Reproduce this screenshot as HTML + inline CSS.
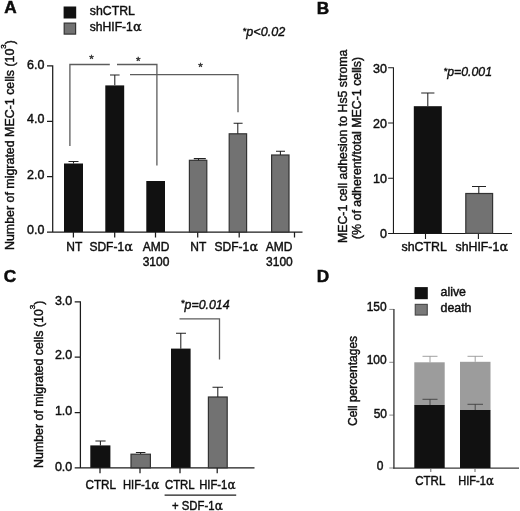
<!DOCTYPE html>
<html>
<head>
<meta charset="utf-8">
<title>Figure</title>
<style>
html,body{margin:0;padding:0;background:#fff;}
body{width:520px;height:511px;overflow:hidden;}
svg{display:block;font-family:"Liberation Sans",sans-serif;filter:blur(0.25px);}
.t{font-size:12px;fill:#0e0e0e;stroke:#0e0e0e;stroke-width:0.42;}
.tk{font-size:12.5px;fill:#0e0e0e;stroke:#0e0e0e;stroke-width:0.42;}
.b{font-size:17.2px;font-weight:bold;fill:#0c0c0c;stroke:#0c0c0c;stroke-width:0.5;}
.i{font-size:12px;font-style:italic;fill:#0e0e0e;stroke:#0e0e0e;stroke-width:0.38;}
.al{font-family:"DejaVu Math TeX Gyre","Liberation Serif",serif;font-size:12.5px;}
.ax{stroke:#1c1c1c;stroke-width:1.25;fill:none;}
.br{stroke:#5c5c5c;stroke-width:1.3;fill:none;}
.eb{stroke:#222;stroke-width:1.05;fill:none;}
.k{fill:#111;}
.g{fill:#727272;stroke:#333;stroke-width:1.2;}
</style>
</head>
<body>
<svg width="520" height="511" viewBox="0 0 520 511">
<rect width="520" height="511" fill="#fff"/>

<!-- ================= Panel A ================= -->
<g id="pA">
<text class="b" x="4.2" y="13.3">A</text>
<rect class="k" x="63.6" y="6.5" width="12.6" height="12"/>
<rect class="g" x="64.2" y="23.1" width="11.4" height="11"/>
<text class="t" style="font-size:12.3px" x="89.8" y="15">shCTRL</text>
<text class="t" style="font-size:12.1px" x="89.8" y="31.4">shHIF-1<tspan class="al">α</tspan></text>
<text class="i" style="font-size:12.6px" x="242.6" y="36"><tspan style="font-size:9.5px" dy="-2.5">*</tspan><tspan dy="2.5">p&lt;0.02</tspan></text>

<!-- y label -->
<text class="t" style="font-size:12.41px" transform="translate(14.1,250) rotate(-90)">Number of migrated MEC-1 cells (10<tspan style="font-size:8px" dy="-8.4">3</tspan><tspan dy="8.4">)</tspan></text>

<!-- axes -->
<path class="ax" d="M52.7,65.2V232M47,232H302.5M47,65.9H52.7M47,121.3H52.7M47,176.6H52.7"/>
<path class="ax" d="M73.4,232v5.4M114.7,232v5.4M155.5,232v5.4M197.7,232v5.4M239.2,232v5.4M294.5,232v5.4"/>
<text class="tk" x="44.5" y="68.6" text-anchor="end">6.0</text>
<text class="tk" x="44.5" y="122.6" text-anchor="end">4.0</text>
<text class="tk" x="44.5" y="178.6" text-anchor="end">2.0</text>
<text class="tk" x="44.5" y="233.8" text-anchor="end">0.0</text>

<!-- bars -->
<rect class="k" x="64" y="163.5" width="19" height="68.5"/>
<rect class="k" x="105.3" y="85.4" width="18.9" height="146.6"/>
<rect class="k" x="146.3" y="181" width="18.7" height="51.0"/>
<rect class="g" x="189.4" y="160.3" width="17.4" height="71.7"/>
<rect class="g" x="229.2" y="133.8" width="17.4" height="98.2"/>
<rect class="g" x="271.6" y="155" width="17.4" height="77.0"/>
<!-- error bars -->
<path class="eb" d="M73.5,163.5V161.5M68.5,161.5h10"/>
<path class="eb" d="M114.8,85.3V75M110,75h9.6"/>
<path class="eb" d="M198.5,160.3V158.6M193.8,158.6h12"/>
<path class="eb" d="M237.8,133.8V123.3M233.6,123.3h9"/>
<path class="eb" d="M280.4,155V151.3M276,151.3h9"/>

<!-- brackets -->
<path class="br" d="M69.9,146V64.5H109.8M117,64.5H156.9V165.5"/>
<path class="br" d="M130,74.6H238V112.2"/>
<text class="t" x="91.6" y="63.3" text-anchor="middle" style="font-size:11.5px;fill:#333;stroke:#333">*</text>
<text class="t" x="138.2" y="64.7" text-anchor="middle" style="font-size:11.5px;fill:#333;stroke:#333">*</text>
<text class="t" x="200.5" y="70.7" text-anchor="middle" style="font-size:11.5px;fill:#333;stroke:#333">*</text>

<!-- x labels -->
<text class="t" x="74.3" y="250.9" text-anchor="middle">NT</text>
<text class="t" x="111.5" y="250.9" text-anchor="middle">SDF-1<tspan class="al">α</tspan></text>
<text class="t" x="156" y="250.9" text-anchor="middle">AMD</text>
<text class="t" x="156" y="266" text-anchor="middle">3100</text>
<text class="t" x="198.3" y="250.9" text-anchor="middle">NT</text>
<text class="t" x="236.7" y="250.9" text-anchor="middle">SDF-1<tspan class="al">α</tspan></text>
<text class="t" x="279" y="250.9" text-anchor="middle">AMD</text>
<text class="t" x="279.4" y="266" text-anchor="middle">3100</text>
</g>

<!-- ================= Panel B ================= -->
<g id="pB">
<text class="b" x="316.7" y="13.6">B</text>
<text class="t" style="font-size:12.3px" transform="translate(347.3,146.3) rotate(-90)" text-anchor="middle">MEC-1 cell adhesion to Hs5 stroma</text>
<text class="t" style="font-size:12.36px" transform="translate(360.9,148) rotate(-90)" text-anchor="middle">(% of adherent/total MEC-1 cells)</text>
<path class="ax" style="stroke-width:1.1" d="M393.45,67.3V233.45M388.1,233.45H512M388.1,67.8H393.45M388.1,123H393.45M388.1,178.2H393.45"/>
<path class="ax" style="stroke-width:1.1" d="M425.5,233.4v5.7M478.4,233.4v5.7"/>
<text class="tk" x="387" y="73" text-anchor="end">30</text>
<text class="tk" x="387" y="128" text-anchor="end">20</text>
<text class="tk" x="387" y="183" text-anchor="end">10</text>
<text class="tk" x="387" y="238.2" text-anchor="end">0</text>
<rect class="k" x="413.8" y="106.2" width="28" height="127.2"/>
<rect class="g" x="465.8" y="193.5" width="26.8" height="39.9"/>
<path class="eb" d="M427.8,106.2V93M421.2,93h13.2"/>
<path class="eb" d="M478.8,193.5V186.4M472,186.4h14"/>
<text class="i" style="font-size:12.3px" x="443.5" y="76.4"><tspan style="font-size:9.5px" dy="-2.5">*</tspan><tspan dy="2.5">p=0.001</tspan></text>
<text class="t" style="font-size:12.4px" x="424.2" y="250.5" text-anchor="middle">shCTRL</text>
<text class="t" style="font-size:12.3px" x="482.2" y="250.5" text-anchor="middle">shHIF-1<tspan class="al">α</tspan></text>
</g>

<!-- ================= Panel C ================= -->
<g id="pC">
<text class="b" x="3.8" y="281.8">C</text>
<text class="t" style="font-size:12.37px" transform="translate(43,467.9) rotate(-90)">Number of migrated cells (10<tspan style="font-size:8px" dy="-8.4">3</tspan><tspan dy="8.4">)</tspan></text>
<path class="ax" d="M80.4,301.2V467.8M74.7,467.8H254.5M74.7,301.8H80.4M74.7,357.1H80.4M74.7,412.5H80.4"/>
<path class="ax" d="M100,467.8v5.4M140,467.8v5.4M180,467.8v5.4M217.2,467.8v5.4"/>
<text class="tk" x="72.3" y="304.8" text-anchor="end">3.0</text>
<text class="tk" x="72.3" y="359.1" text-anchor="end">2.0</text>
<text class="tk" x="72.3" y="415" text-anchor="end">1.0</text>
<text class="tk" x="72.3" y="471" text-anchor="end">0.0</text>
<rect class="k" x="90.3" y="445.4" width="20.1" height="22.4"/>
<rect class="g" x="131" y="454.2" width="19.4" height="13.6"/>
<rect class="k" x="171" y="348.6" width="19.6" height="119.2"/>
<rect class="g" x="208.4" y="397" width="18.8" height="70.8"/>
<path class="eb" d="M100.4,445.5V441M95.4,441h10.2"/>
<path class="eb" d="M140.6,454V452.4M135.9,452.4h9.5"/>
<path class="eb" d="M180.8,348.8V333.3M176,333.3h10"/>
<path class="eb" d="M217.8,397V387.3M212.5,387.3h10.5"/>
<path class="br" d="M179.5,318.8H219.5V359.5"/>
<text class="i" style="font-size:12.4px" x="180.8" y="308.8"><tspan style="font-size:9.5px" dy="-2.5">*</tspan><tspan dy="2.5">p=0.014</tspan></text>
<text class="t" transform="translate(100.8,489) scale(0.975,1)" text-anchor="middle">CTRL</text>
<text class="t" transform="translate(141.4,489) scale(0.935,1)" text-anchor="middle">HIF-1<tspan class="al">α</tspan></text>
<text class="t" transform="translate(179.8,488.9) scale(0.95,1)" text-anchor="middle">CTRL</text>
<text class="t" transform="translate(217.7,488.9) scale(0.94,1)" text-anchor="middle">HIF-1<tspan class="al">α</tspan></text>
<path class="ax" d="M164.6,495.2H236.2"/>
<text class="t" transform="translate(197.7,509.7) scale(0.945,1)" text-anchor="middle">+ SDF-1<tspan class="al">α</tspan></text>
</g>

<!-- ================= Panel D ================= -->
<g id="pD">
<text class="b" x="316.7" y="281.6">D</text>
<rect class="k" x="414.7" y="287.1" width="13.1" height="12.1"/>
<rect x="415.25" y="304.35" width="12" height="10.7" fill="#797979" stroke="#444" stroke-width="1.1"/>
<text class="t" style="font-size:12.4px" x="440.5" y="295.8">alive</text>
<text class="t" style="font-size:12.4px" x="440.5" y="312">death</text>
<text class="t" transform="translate(356.5,426) rotate(-90)">Cell percentages</text>
<path d="M389.3,309.4H393.9M389.3,362.3H393.9M389.3,415.1H393.9M389.3,468H394" stroke="#8a8a8a" stroke-width="1" fill="none"/><path d="M393.9,308.9V468.6" stroke="#4a4a4a" stroke-width="1.5" fill="none"/><path d="M393.2,468H519" stroke="#3a3a3a" stroke-width="1.25" fill="none"/>
<path d="M430.8,468v4M475,468v4" stroke="#666" stroke-width="1" fill="none"/>
<text class="tk" style="font-size:12px" x="386.7" y="311.3" text-anchor="end">150</text>
<text class="tk" style="font-size:12px" x="386.7" y="364.1" text-anchor="end">100</text>
<text class="tk" style="font-size:12px" x="387" y="417.6" text-anchor="end">50</text>
<text class="tk" style="font-size:12px" x="383.5" y="469.6" text-anchor="end">0</text>
<rect x="414.3" y="362.3" width="30.4" height="43" fill="#9c9c9c"/>
<rect x="460" y="361.8" width="30.5" height="48.5" fill="#9c9c9c"/>
<rect class="k" x="414.3" y="405" width="30.4" height="63"/>
<rect class="k" x="460" y="410" width="30.5" height="58"/>
<path d="M430,362.3V356.3M422.5,356.3h15M475.2,361.8V356.3M467.5,356.3h15.5" stroke="#909090" stroke-width="0.85" fill="none"/>
<path d="M430,405V399.3M422.5,399.3h15M475.2,410V404.3M467.5,404.3h15.5" stroke="#3a3a3a" stroke-width="0.85" fill="none"/>
<text class="t" transform="translate(430.3,484.6) scale(0.96,1)" text-anchor="middle">CTRL</text>
<text class="t" transform="translate(476.4,484.6) scale(0.92,1)" text-anchor="middle">HIF-1<tspan class="al">α</tspan></text>
</g>
</svg>
</body>
</html>
